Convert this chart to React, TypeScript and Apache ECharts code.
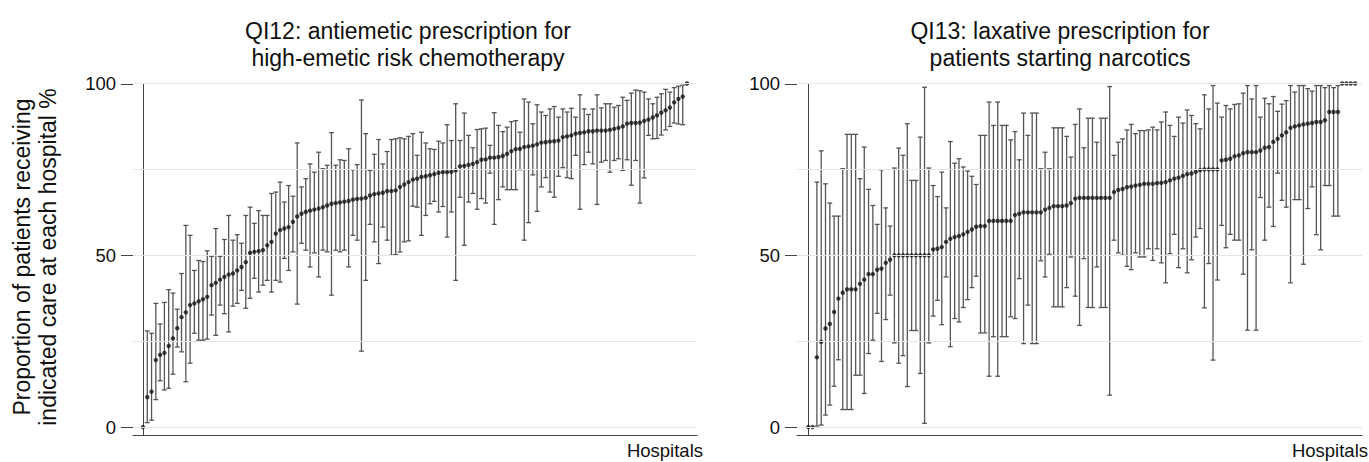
import React, { useEffect, useRef } from "react";
import * as echarts from "echarts";

// QI12: antiemetic prescription (hospitals sorted by proportion)
const qi12Est = [
  0, 8.7, 10.3, 19.5, 21, 21.6, 23.6, 25.8, 28.8, 32,
  33.4, 35.5, 36, 36.6, 37.2, 37.9, 41.3, 42, 42.9, 43.7,
  44.4, 44.7, 45.6, 46.6, 48, 50.7, 51, 51.2, 51.5, 52.9,
  53.9, 56.3, 57.3, 57.8, 58.2, 59.7, 61.3, 62.1, 62.6, 63,
  63.3, 63.6, 64, 64.5, 65, 65.2, 65.4, 65.6, 65.8, 66.2,
  66.4, 66.5, 66.7, 67.4, 67.8, 68, 68.2, 68.7, 68.7, 68.9,
  69.9, 70.6, 71.3, 72, 72.3, 72.8, 73, 73.3, 73.6, 74,
  74.2, 74.2, 74.3, 74.7, 75.9, 76, 76.3, 76.6, 77.1, 77.8,
  77.9, 78.4, 78.4, 78.6, 78.9, 79.5, 80.3, 80.9, 81, 81.5,
  81.7, 81.9, 82.3, 82.8, 82.9, 83.1, 83.2, 83.4, 84.4, 84.6,
  84.9, 85.4, 85.6, 85.8, 86.1, 86.1, 86.3, 86.3, 86.3, 86.5,
  86.8, 87.1, 87.5, 88.3, 88.5, 88.5, 88.6, 89.1, 89.5, 90.1,
  90.7, 91.5, 92.2, 93, 94.5, 95.5, 96.2, 100,
];
const qi12Lo = [
  0, 1.3, 2, 8, 13.5, 10.8, 11.3, 15.4, 23.3, 21.9,
  13.2, 18.6, 27.3, 25.3, 25.3, 25.6, 32.6, 26.7, 35.5, 33,
  27.7, 35.2, 36, 39.8, 34.6, 37.5, 43.3, 39.3, 41.3, 42.7,
  39.3, 42.7, 42.2, 49.1, 45.6, 51, 35.8, 53.5, 51.5, 46.6,
  50.7, 43.7, 51.5, 51, 38.4, 51.5, 51, 51.5, 46.6, 55.8,
  54.4, 22.1, 42.7, 59, 53.9, 47.6, 58.2, 54.4, 50, 50.2,
  51, 53.9, 54.2, 64.3, 64, 55.8, 61.6, 65, 65.7, 62.6,
  64.2, 55.3, 62.6, 42.7, 66.9, 52.9, 65.5, 68, 63.4, 66.5,
  65.2, 73.9, 59, 66.2, 69.9, 69.1, 69.1, 69.1, 74.9, 54.4,
  59.5, 73.4, 62.8, 69.9, 72.6, 68.4, 66.9, 73, 75.5, 72.6,
  72.3, 79.1, 63.4, 76.4, 80, 76.6, 64.8, 77.1, 77.6, 74.2,
  77.6, 78.1, 74.7, 77.8, 70.4, 77.6, 65.2, 72.5, 84.9, 83.9,
  84, 85, 86.5, 87.5, 88.5, 88.2, 88, 100,
];
const qi12Hi = [
  0, 28, 27.3, 36, 30, 36.3, 40, 39, 34.3, 44.7,
  58.7, 55.8, 45.6, 48.5, 48.2, 51.3, 49.7, 57.8, 49.7, 54.6,
  61.6, 54.4, 56, 53.5, 61.6, 64, 59.3, 63, 61.6, 61.6,
  68, 68.4, 71.3, 65.5, 70.3, 67.2, 82.7, 69.9, 72.3, 76.6,
  74.2, 80, 75.2, 76.2, 85.7, 76.2, 77.8, 77.6, 81, 74.9,
  76.4, 95.2, 85.4, 74.7, 79.4, 83.7, 76.6, 80.2, 83.7, 83.9,
  84.2, 83.9, 84.6, 85.4, 79.1, 85.8, 82.7, 81, 80.8, 83.2,
  82.7, 88, 83.4, 94.1, 83.4, 91.4, 84.9, 81.3, 86.6, 86.8,
  87, 82, 91.5, 87.8, 86, 87.3, 88.9, 89.2, 85.8, 95.5,
  94.6, 88.3, 93.8, 91.7, 90.7, 92.6, 93.3, 90.2, 92.6, 91.7,
  92.8, 90.2, 96.7, 92.6, 91, 92.6, 96.7, 92.9, 94.1, 94.1,
  93.1, 93.6, 96, 95.1, 97.2, 98.1, 97.9, 97.5, 95.5, 94.1,
  96, 97, 98.3, 97.5, 98.8, 99.2, 99.5, 100,
];

// QI13: laxative prescription
const qi13Est = [
  0, 0, 20.3, 24.8, 28.7, 30, 33.5, 37.4, 39.1, 40.1,
  40.1, 40.1, 41.7, 42.9, 44.5, 44.5, 45.8, 46.1, 47.8, 48.7,
  50, 50, 50, 50, 50, 50, 50, 50, 50, 51.7,
  51.9, 52.4, 53.9, 54.8, 55.3, 55.6, 56.1, 56.8, 57.5, 58.3,
  58.5, 58.5, 60, 60, 60, 60, 60, 60, 61.7, 62.1,
  62.5, 62.5, 62.5, 62.5, 62.5, 63.3, 63.8, 64.3, 64.3, 64.3,
  64.5, 65.2, 66.5, 66.7, 66.7, 66.7, 66.7, 66.7, 66.7, 66.7,
  66.7, 68.4, 69, 69.3, 69.8, 70, 70.3, 70.5, 70.8, 70.8,
  70.8, 71, 71.1, 71.3, 71.8, 72.3, 72.6, 73.1, 73.6, 73.8,
  74.3, 74.8, 75, 75, 75, 75, 77.6, 77.8, 78.1, 78.8,
  79.1, 79.7, 80, 80, 80, 80.5, 81.3, 81.5, 83, 83.9,
  84.9, 85.8, 87.1, 87.5, 87.8, 88.1, 88.3, 88.5, 88.8, 88.8,
  89.3, 91.7, 91.7, 91.7, 100, 100, 100, 100,
];
const qi13Lo = [
  0, 0, 0.3, 0.6, 3.5, 6.4, 11.9, 19.6, 5.1, 5.1,
  5.1, 15.1, 15.1, 9.8, 21.4, 25.3, 33.1, 19.1, 31.3, 38.4,
  24.5, 18.6, 20.8, 11.8, 28.1, 28.1, 15.6, 1.1, 24.5, 32.3,
  36.9, 29.8, 43.7, 23.4, 31.6, 30.6, 34.8, 37.1, 40.6, 43.9,
  27.4, 27.4, 14.8, 26.3, 14.8, 26.3, 26.3, 32.1, 31.6, 43.2,
  24.3, 35.5, 24.3, 24.3, 48.4, 43.7, 50.3, 35, 35, 35,
  40.6, 49.5, 38.1, 29.6, 49, 34.8, 34.8, 46.6, 34.8, 34.8,
  9.3, 54.4, 50.7, 50, 46.8, 45.8, 50.7, 49.5, 49.5, 51.9,
  48.5, 51.9, 47.8, 42, 50.5, 56.1, 46.4, 51.9, 44.9, 48.7,
  55.3, 57.8, 34.7, 47.6, 19.5, 42.8, 58.7, 52.2, 56.1, 54.4,
  54.4, 44.5, 28.2, 51.6, 28.2, 66.8, 54.4, 64, 58.4, 73.9,
  66, 64, 42, 66.2, 66.2, 47.4, 63.6, 69.9, 56, 51.6,
  70.3, 70.3, 61.4, 61.4, 100, 100, 100, 100,
];
const qi13Hi = [
  0, 0, 71.3, 80.4, 70.8, 65.2, 61.4, 61.4, 75.2, 85.2,
  85.2, 85.2, 72.3, 81.5, 69.2, 64.5, 59, 74.9, 63.8, 58.5,
  75.4, 81.2, 79.1, 88.3, 71.8, 71.8, 84.4, 98.9, 75.4, 70.3,
  67.1, 74.2, 63.8, 83.1, 76.8, 78.1, 75.7, 74.5, 73, 70.6,
  84.9, 84.9, 94.6, 87.8, 94.6, 87.8, 87.8, 83.6, 86, 77.8,
  91.4, 84.9, 91.4, 91.4, 75.2, 80, 75.2, 87.1, 87.1, 87.1,
  84.6, 78.6, 88.1, 92.6, 81.3, 89.9, 89.9, 82.9, 89.9, 89.9,
  99.1, 79.1, 82.9, 83.9, 86.5, 88.1, 85.4, 86.3, 86.3, 86.5,
  87.3, 86.5, 88.8, 91.7, 87.8, 84.6, 90.2, 88.5, 92.3, 90.7,
  88.3, 86.8, 96.7, 92.6, 99.4, 94.3, 90.2, 93.6, 92.6, 93.9,
  94.1, 97.2, 99.4, 95.5, 99.4, 90.2, 95.7, 94.1, 96.2, 91.9,
  94, 95, 99.4, 97.5, 99.4, 99.4, 98.5, 97.8, 99.4, 99.4,
  98.8, 99.4, 98.8, 99.4, 100, 100, 100, 100,
];

const yTickValues = [0, 50, 100];
const gridValues = [0, 25, 50, 75, 100];
const titles = [
  "QI12: antiemetic prescription for\nhigh-emetic risk chemotherapy",
  "QI13: laxative prescription for\npatients starting narcotics",
];
const yAxisTitle = "Proportion of patients receiving\nindicated care at each hospital %";
const xAxisTitle = "Hospitals";

const FONT = "'Liberation Sans', Arial, Helvetica, sans-serif";
const BAR_COLOR = "#555";
const AXIS_COLOR = "#444";
const TICK_LEN = 12;

function buildPanelSeries(idx: number, est: number[], lo: number[], hi: number[]) {
  const pts = est.map((v, i) => [i, v]);
  const bars = est.map((_, i) => [i, lo[i], hi[i]]);
  return [
    {
      type: "scatter",
      xAxisIndex: idx,
      yAxisIndex: idx,
      data: pts,
      symbolSize: 0,
      silent: true,
      z: 1,
      markLine: {
        silent: true,
        symbol: ["none", "none"],
        label: { show: false },
        lineStyle: { color: "#e6e6e6", width: 1, type: "solid" },
        data: gridValues.map((v) => ({ yAxis: v })),
      },
    },
    {
      // y-axis tick marks at the labelled values
      type: "custom",
      xAxisIndex: idx,
      yAxisIndex: idx,
      data: yTickValues.map((v) => [0, v]),
      clip: false,
      silent: true,
      z: 4,
      renderItem: (params: any, api: any) => {
        const cs = params.coordSys;
        const p = api.coord([0, api.value(1)]);
        const y = Math.round(p[1]) + 0.5;
        return {
          type: "line",
          shape: { x1: cs.x - TICK_LEN, y1: y, x2: cs.x, y2: y },
          style: { stroke: AXIS_COLOR, lineWidth: 1 },
        };
      },
    },
    {
      type: "custom",
      xAxisIndex: idx,
      yAxisIndex: idx,
      data: bars,
      z: 2,
      encode: { x: 0, y: [1, 2] },
      renderItem: (params: any, api: any) => {
        const x = api.value(0);
        const l = api.value(1);
        const h = api.value(2);
        if (h - l < 0.01) return null;
        const pl = api.coord([x, l]);
        const ph = api.coord([x, h]);
        const cap = 2.4;
        const style = { stroke: BAR_COLOR, lineWidth: 1.3 };
        return {
          type: "group",
          children: [
            { type: "line", shape: { x1: pl[0], y1: pl[1], x2: ph[0], y2: ph[1] }, style },
            { type: "line", shape: { x1: ph[0] - cap, y1: ph[1], x2: ph[0] + cap, y2: ph[1] }, style },
            { type: "line", shape: { x1: pl[0] - cap, y1: pl[1], x2: pl[0] + cap, y2: pl[1] }, style },
          ],
        };
      },
    },
    {
      type: "scatter",
      xAxisIndex: idx,
      yAxisIndex: idx,
      data: pts,
      symbol: "circle",
      symbolSize: 4.4,
      itemStyle: { color: "#111" },
      z: 3,
    },
  ];
}

function yAxisDef(idx: number) {
  return {
    gridIndex: idx,
    type: "value",
    min: -2.3,
    max: 100,
    axisLine: { show: true, lineStyle: { color: AXIS_COLOR, width: 1 } },
    axisTick: { show: false },
    axisLabel: {
      customValues: yTickValues,
      fontSize: 18.5,
      color: "#111",
      fontFamily: FONT,
      margin: 17,
    },
    splitLine: { show: false },
  };
}

function xAxisDef(idx: number, min: number, max: number) {
  return {
    gridIndex: idx,
    type: "value",
    min,
    max,
    axisLine: { show: true, onZero: false, lineStyle: { color: AXIS_COLOR, width: 1 } },
    axisTick: { show: false },
    axisLabel: { show: false },
    splitLine: { show: false },
  };
}

export default function App() {
  const ref = useRef<HTMLDivElement>(null);
  useEffect(() => {
    if (!ref.current) return;
    const chart = echarts.init(ref.current, null, { renderer: "svg" });
    const textStyle = { fill: "#111", fontFamily: FONT };
    chart.setOption({
      animation: false,
      backgroundColor: "#fff",
      grid: [
        { left: 133, top: 83.5, width: 564, height: 351.5 },
        { left: 797, top: 83.5, width: 565, height: 351.5 },
      ],
      xAxis: [xAxisDef(0, -2.33, 129.33), xAxisDef(1, -2.62, 128.6)],
      yAxis: [yAxisDef(0), yAxisDef(1)],
      series: [
        ...buildPanelSeries(0, qi12Est, qi12Lo, qi12Hi),
        ...buildPanelSeries(1, qi13Est, qi13Lo, qi13Hi),
      ],
      graphic: [
        {
          type: "text",
          x: 408,
          y: 44,
          style: { ...textStyle, text: titles[0], fontSize: 23, lineHeight: 27, textAlign: "center", textVerticalAlign: "middle" },
        },
        {
          type: "text",
          x: 1060,
          y: 44,
          style: { ...textStyle, text: titles[1], fontSize: 23, lineHeight: 27, textAlign: "center", textVerticalAlign: "middle" },
        },
        {
          type: "text",
          x: 35,
          y: 257,
          rotation: Math.PI / 2,
          style: { ...textStyle, text: yAxisTitle, fontSize: 23, lineHeight: 26, textAlign: "center", textVerticalAlign: "middle" },
        },
        {
          type: "text",
          x: 703,
          y: 450,
          style: { ...textStyle, text: xAxisTitle, fontSize: 18.5, textAlign: "right", textVerticalAlign: "middle" },
        },
        {
          type: "text",
          x: 1368,
          y: 450,
          style: { ...textStyle, text: xAxisTitle, fontSize: 18.5, textAlign: "right", textVerticalAlign: "middle" },
        },
      ],
    });
    return () => chart.dispose();
  }, []);
  return (
    <div
      ref={ref}
      style={{ position: "fixed", left: 0, top: 0, width: 1369, height: 462, background: "#fff" }}
    />
  );
}
